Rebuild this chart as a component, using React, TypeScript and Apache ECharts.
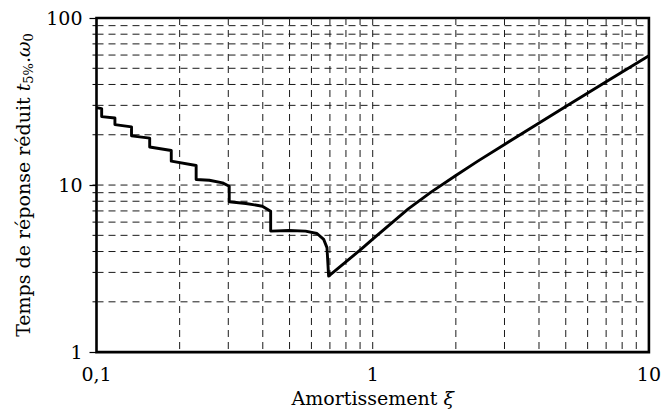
import React, { useEffect, useRef } from "react";
import * as echarts from "echarts";

// Damping ratio ξ (x) and reduced 5% response time t5%.ω0 (y)
const xi = [
  0.1, 0.1044, 0.1044, 0.1166, 0.1166, 0.1339, 0.1339, 0.1558, 0.1558, 0.1865, 0.1865,
  0.2295, 0.2295, 0.2562, 0.286, 0.3024, 0.3024, 0.3473, 0.3985, 0.4271, 0.4271,
  0.4971, 0.5711, 0.6285, 0.6645, 0.683, 0.6925, 0.913, 1.0, 1.345, 1.631, 2, 2.402, 3, 5, 7, 10,
];
const tr = [
  29.1, 28.7, 25.7, 25.2, 23.0, 22.3, 19.7, 19.1, 16.9, 16.1, 13.9,
  13.1, 10.8, 10.68, 10.3, 9.84, 7.94, 7.76, 7.47, 6.98, 5.3,
  5.35, 5.3, 5.13, 4.73, 4.22, 2.85, 4.16, 4.75, 7.2, 9.1, 11.4, 13.9, 17.5, 29.5, 41.5, 59.5,
];

// Grid line positions
const xGridValues = [0.2, 0.3, 0.4, 0.5, 0.6, 0.7, 0.8, 0.9, 1, 2, 3, 4, 5, 6, 7, 8, 9];
const yGridValues = [2, 3, 4, 5, 6, 7, 8, 9, 10, 20, 30, 40, 50, 60, 70, 80, 90];

const X_MIN = 0.1;
const X_MAX = 10;
const Y_MIN = 1;
const Y_MAX = 100;

const FONT = "DejaVu Serif";

export default function App() {
  const ref = useRef<HTMLDivElement>(null);

  useEffect(() => {
    if (!ref.current) return;
    const chart = echarts.init(ref.current, undefined, { renderer: "svg" });
    const dash = { stroke: "#1a1a1a", lineWidth: 1, lineDash: [7, 5] };

    chart.setOption({
      animation: false,
      backgroundColor: "#ffffff",
      grid: {
        left: 96.5,
        right: 12,
        top: 18,
        bottom: 59,
        show: true,
        borderColor: "#000",
        borderWidth: 2.6,
        backgroundColor: "transparent",
      },
      xAxis: {
        type: "log",
        logBase: 10,
        min: X_MIN,
        max: X_MAX,
        axisLine: { show: false },
        axisTick: { show: false },
        splitLine: { show: false },
        axisLabel: {
          margin: 12,
          color: "#000",
          fontFamily: FONT,
          fontSize: 19,
          formatter: (v: number) => (Math.abs(v - 0.1) < 1e-9 ? "0,1" : String(Math.round(v))),
        },
        name: "Amortissement {i|ξ}",
        nameLocation: "middle",
        nameGap: 33,
        nameTextStyle: {
          color: "#000",
          fontFamily: FONT,
          fontSize: 19,
          rich: { i: { fontFamily: FONT, fontSize: 19, fontStyle: "italic", color: "#000" } },
        },
      },
      yAxis: {
        type: "log",
        logBase: 10,
        min: Y_MIN,
        max: Y_MAX,
        axisLine: { show: false },
        axisTick: { show: true, length: 7, inside: false, lineStyle: { color: "#000", width: 1.2 } },
        splitLine: { show: false },
        axisLabel: {
          margin: 14,
          color: "#000",
          fontFamily: FONT,
          fontSize: 19,
          formatter: (v: number) => String(Math.round(v)),
        },
        name: "Temps de réponse réduit {i|t}{s|5%}.{i|ω}{s|0}",
        nameLocation: "middle",
        nameGap: 58,
        nameTextStyle: {
          color: "#000",
          fontFamily: FONT,
          fontSize: 19,
          lineHeight: 24,
          rich: {
            i: { fontFamily: FONT, fontSize: 19, fontStyle: "italic", color: "#000", lineHeight: 24 },
            s: { fontFamily: FONT, fontSize: 13, color: "#000", verticalAlign: "bottom", lineHeight: 17 },
          },
        },
      },
      series: [
        {
          type: "custom",
          z: 1,
          silent: true,
          data: xGridValues.map((v) => [v, Y_MIN]),
          renderItem: (_p: any, api: any) => {
            const v = api.value(0);
            const a = api.coord([v, Y_MIN]);
            const b = api.coord([v, Y_MAX]);
            return {
              type: "line",
              shape: { x1: a[0], y1: b[1], x2: b[0], y2: a[1] },
              style: dash,
            };
          },
        },
        {
          type: "custom",
          z: 1,
          silent: true,
          data: yGridValues.map((v) => [X_MIN, v]),
          renderItem: (_p: any, api: any) => {
            const v = api.value(1);
            const a = api.coord([X_MIN, v]);
            const b = api.coord([X_MAX, v]);
            return {
              type: "group",
              children: [
                { type: "line", shape: { x1: a[0], y1: a[1], x2: b[0], y2: b[1] }, style: dash },
                {
                  type: "line",
                  shape: { x1: a[0] - 4, y1: a[1], x2: a[0], y2: a[1] },
                  style: { stroke: "#000", lineWidth: 1 },
                },
              ],
            };
          },
        },
        {
          type: "line",
          z: 3,
          data: xi.map((x, i) => [x, tr[i]]),
          showSymbol: false,
          symbol: "none",
          lineStyle: { color: "#000", width: 2.9, join: "round" },
          silent: true,
        },
      ],
    });

    return () => chart.dispose();
  }, []);

  return (
    <div
      ref={ref}
      style={{ position: "fixed", left: 0, top: 0, width: 664, height: 412, background: "#fff" }}
    />
  );
}
